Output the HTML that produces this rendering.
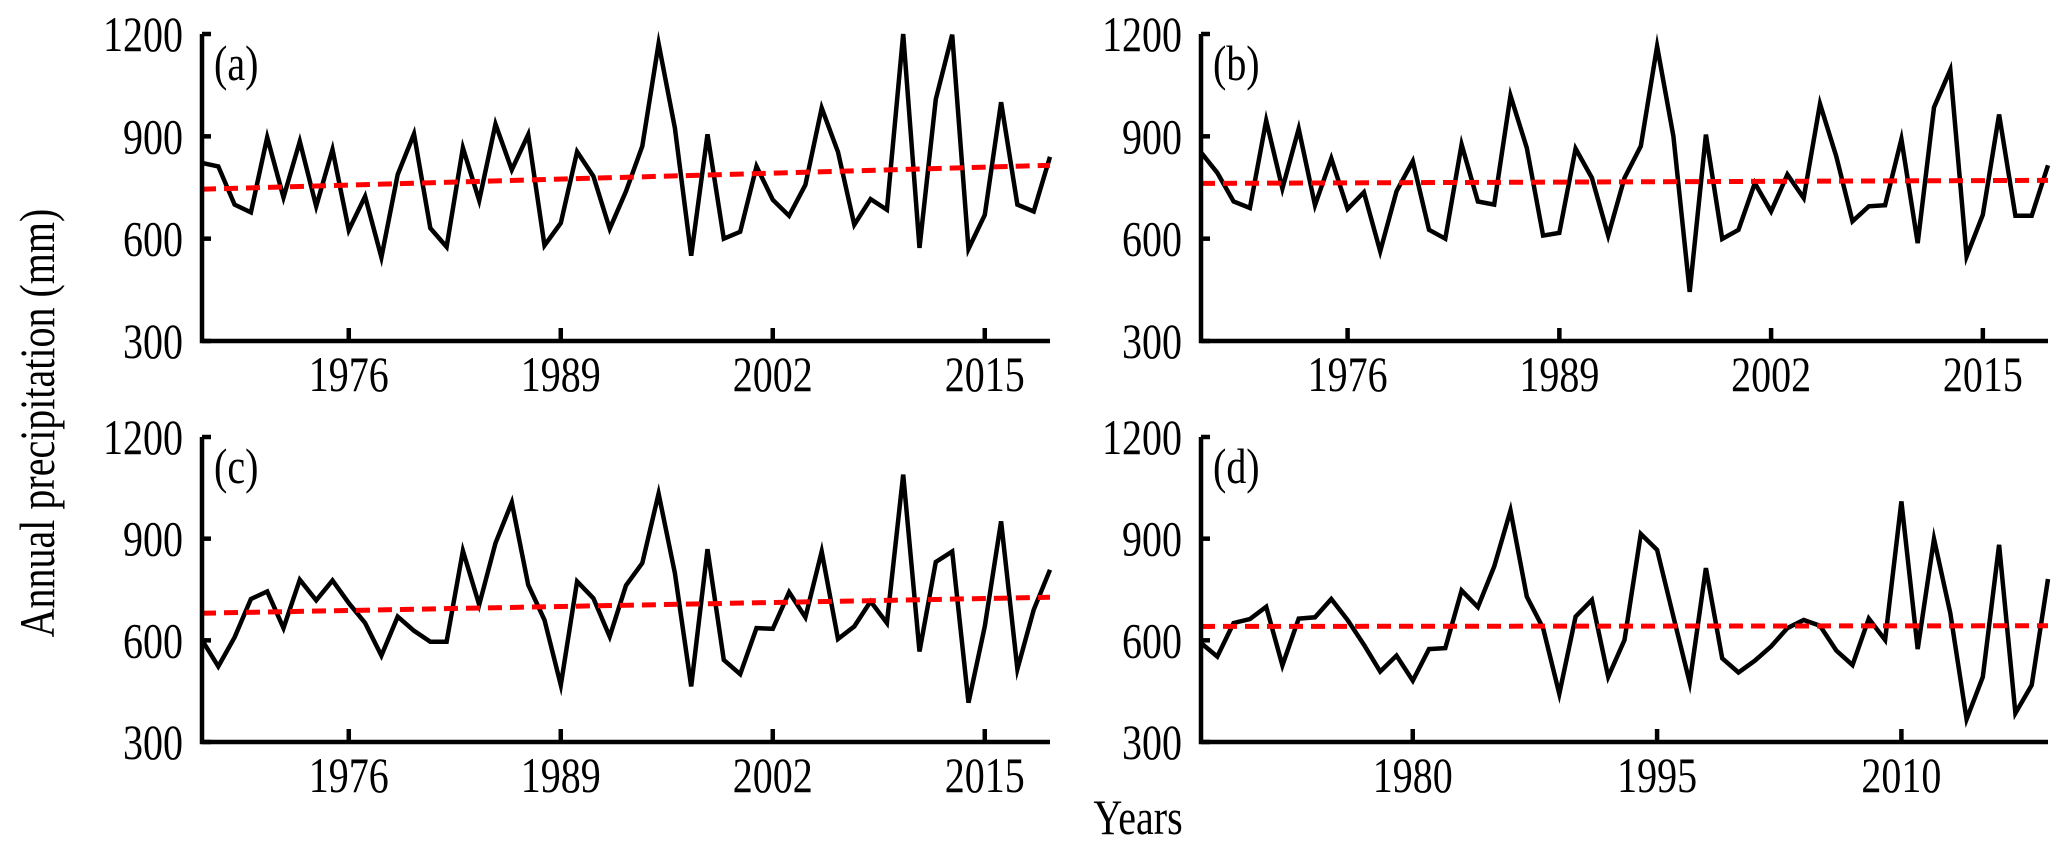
<!DOCTYPE html>
<html><head><meta charset="utf-8"><style>
html,body{margin:0;padding:0;background:#fff;}
svg{display:block;font-family:"Liberation Serif",serif;}
</style></head><body>
<svg id="chart" width="2067" height="847" viewBox="0 0 2067 847" xmlns="http://www.w3.org/2000/svg">
<text x="0" y="0" font-size="50" text-anchor="middle" transform="translate(54,423) rotate(-90) scale(0.8,1)">Annual precipitation (mm)</text>
<text x="0" y="0" font-size="50" text-anchor="middle" transform="translate(1138,834) scale(0.8,1)">Years</text>
</svg>
<script>
const years = Array.from({length:53},(_,i)=>1967+i);
const seriesA = [822,812,700,677,897,721,885,695,861,625,724,545,788,907,631,576,866,712,936,802,905,580,646,855,783,629,739,871,1172,924,550,906,600,620,812,714,667,758,983,854,641,716,685,1200,573,1009,1198,570,670,1000,700,680,840];
const seriesB = [853,793,709,690,946,747,922,698,835,687,736,563,739,827,626,600,876,709,700,1019,866,609,617,864,778,609,778,871,1164,900,444,905,599,626,763,680,788,719,995,841,651,695,698,892,587,985,1095,548,670,964,667,667,815];
const seriesC = [601,523,609,722,744,636,779,718,777,710,651,555,670,628,596,596,864,705,887,1007,764,660,468,774,724,611,762,828,1033,798,464,869,542,500,636,634,742,668,862,604,641,715,651,1089,567,831,862,416,641,951,515,690,808];
const seriesD = [592,552,651,663,699,526,664,668,722,660,587,508,555,481,574,577,747,698,818,983,729,636,442,670,719,492,601,914,867,670,475,813,547,505,540,582,636,660,643,570,527,664,601,1010,574,899,680,367,492,882,385,468,781];
const trendA = [745,815];
const trendB = [762,771];
const trendC = [680,727];
const trendD = [641,643];
const yTicks = [300,600,900,1200];
const xTicksABC = [1976,1989,2002,2015];
const xTicksD = [1980,1995,2010];
const panelLabels = ['(a)','(b)','(c)','(d)'];

const NS='http://www.w3.org/2000/svg';
const svg=document.getElementById('chart');
function mk(tag,attrs,parent){const e=document.createElementNS(NS,tag);for(const k in attrs)e.setAttribute(k,attrs[k]);(parent||svg).appendChild(e);return e;}
function txt(x,y,anchor,str,parent){const e=mk('text',{x:0,y:0,'font-size':50,'text-anchor':anchor,transform:`translate(${x},${y}) scale(0.8,1)`},parent);e.textContent=str;return e;}

const panels=[
 {id:'a',x0:202,x1:1050,y0:34,y1:341,data:seriesA,trend:trendA,xt:xTicksABC,lab:panelLabels[0]},
 {id:'b',x0:1201,x1:2048,y0:34,y1:341,data:seriesB,trend:trendB,xt:xTicksABC,lab:panelLabels[1]},
 {id:'c',x0:202,x1:1050,y0:437,y1:742,data:seriesC,trend:trendC,xt:xTicksABC,lab:panelLabels[2]},
 {id:'d',x0:1201,x1:2048,y0:437,y1:742,data:seriesD,trend:trendD,xt:xTicksD,lab:panelLabels[3]}
];
const yMin=300,yMax=1200,xMin=1967,xMax=2019;
panels.forEach(p=>{
  const g=mk('g',{});
  
  
  const sx=v=>p.x0+(v-xMin)/(xMax-xMin)*(p.x1-p.x0);
  const sy=v=>p.y1-(v-yMin)/(yMax-yMin)*(p.y1-p.y0);
  const pts=p.data.map((v,i)=>sx(years[i]).toFixed(1)+','+sy(v).toFixed(1)).join(' ');
  const line=mk('polyline',{points:pts,fill:'none',stroke:'#000','stroke-width':4.5,'stroke-linejoin':'miter','stroke-miterlimit':6},g);
  
  
  const tr=mk('line',{x1:sx(xMin),y1:sy(p.trend[0]),x2:sx(xMax),y2:sy(p.trend[1]),stroke:'#ff0000','stroke-width':5,'stroke-dasharray':'14 8'},g);
  
  
  const ax=mk('path',{d:`M${p.x0},${p.y0} V${p.y1} H${p.x1}`,fill:'none',stroke:'#000','stroke-width':4.5},g);
  
  
  yTicks.forEach(t=>{
    const y=sy(t);
    mk('line',{x1:p.x0,y1:y,x2:p.x0+9,y2:y,stroke:'#000','stroke-width':4.5},g);
    const tx=txt(p.x0-19,y+17,'end',t,g);
    
    
  });
  p.xt.forEach(t=>{
    const x=sx(t);
    mk('line',{x1:x,y1:p.y1,x2:x,y2:p.y1-13,stroke:'#000','stroke-width':4.5},g);
    const tx=txt(x,p.y1+50,'middle',t,g);
    
    
  });
  const lb=txt(p.x0+12,p.y0+46,'start',p.lab,g);
  
  
});
</script>
</body></html>
